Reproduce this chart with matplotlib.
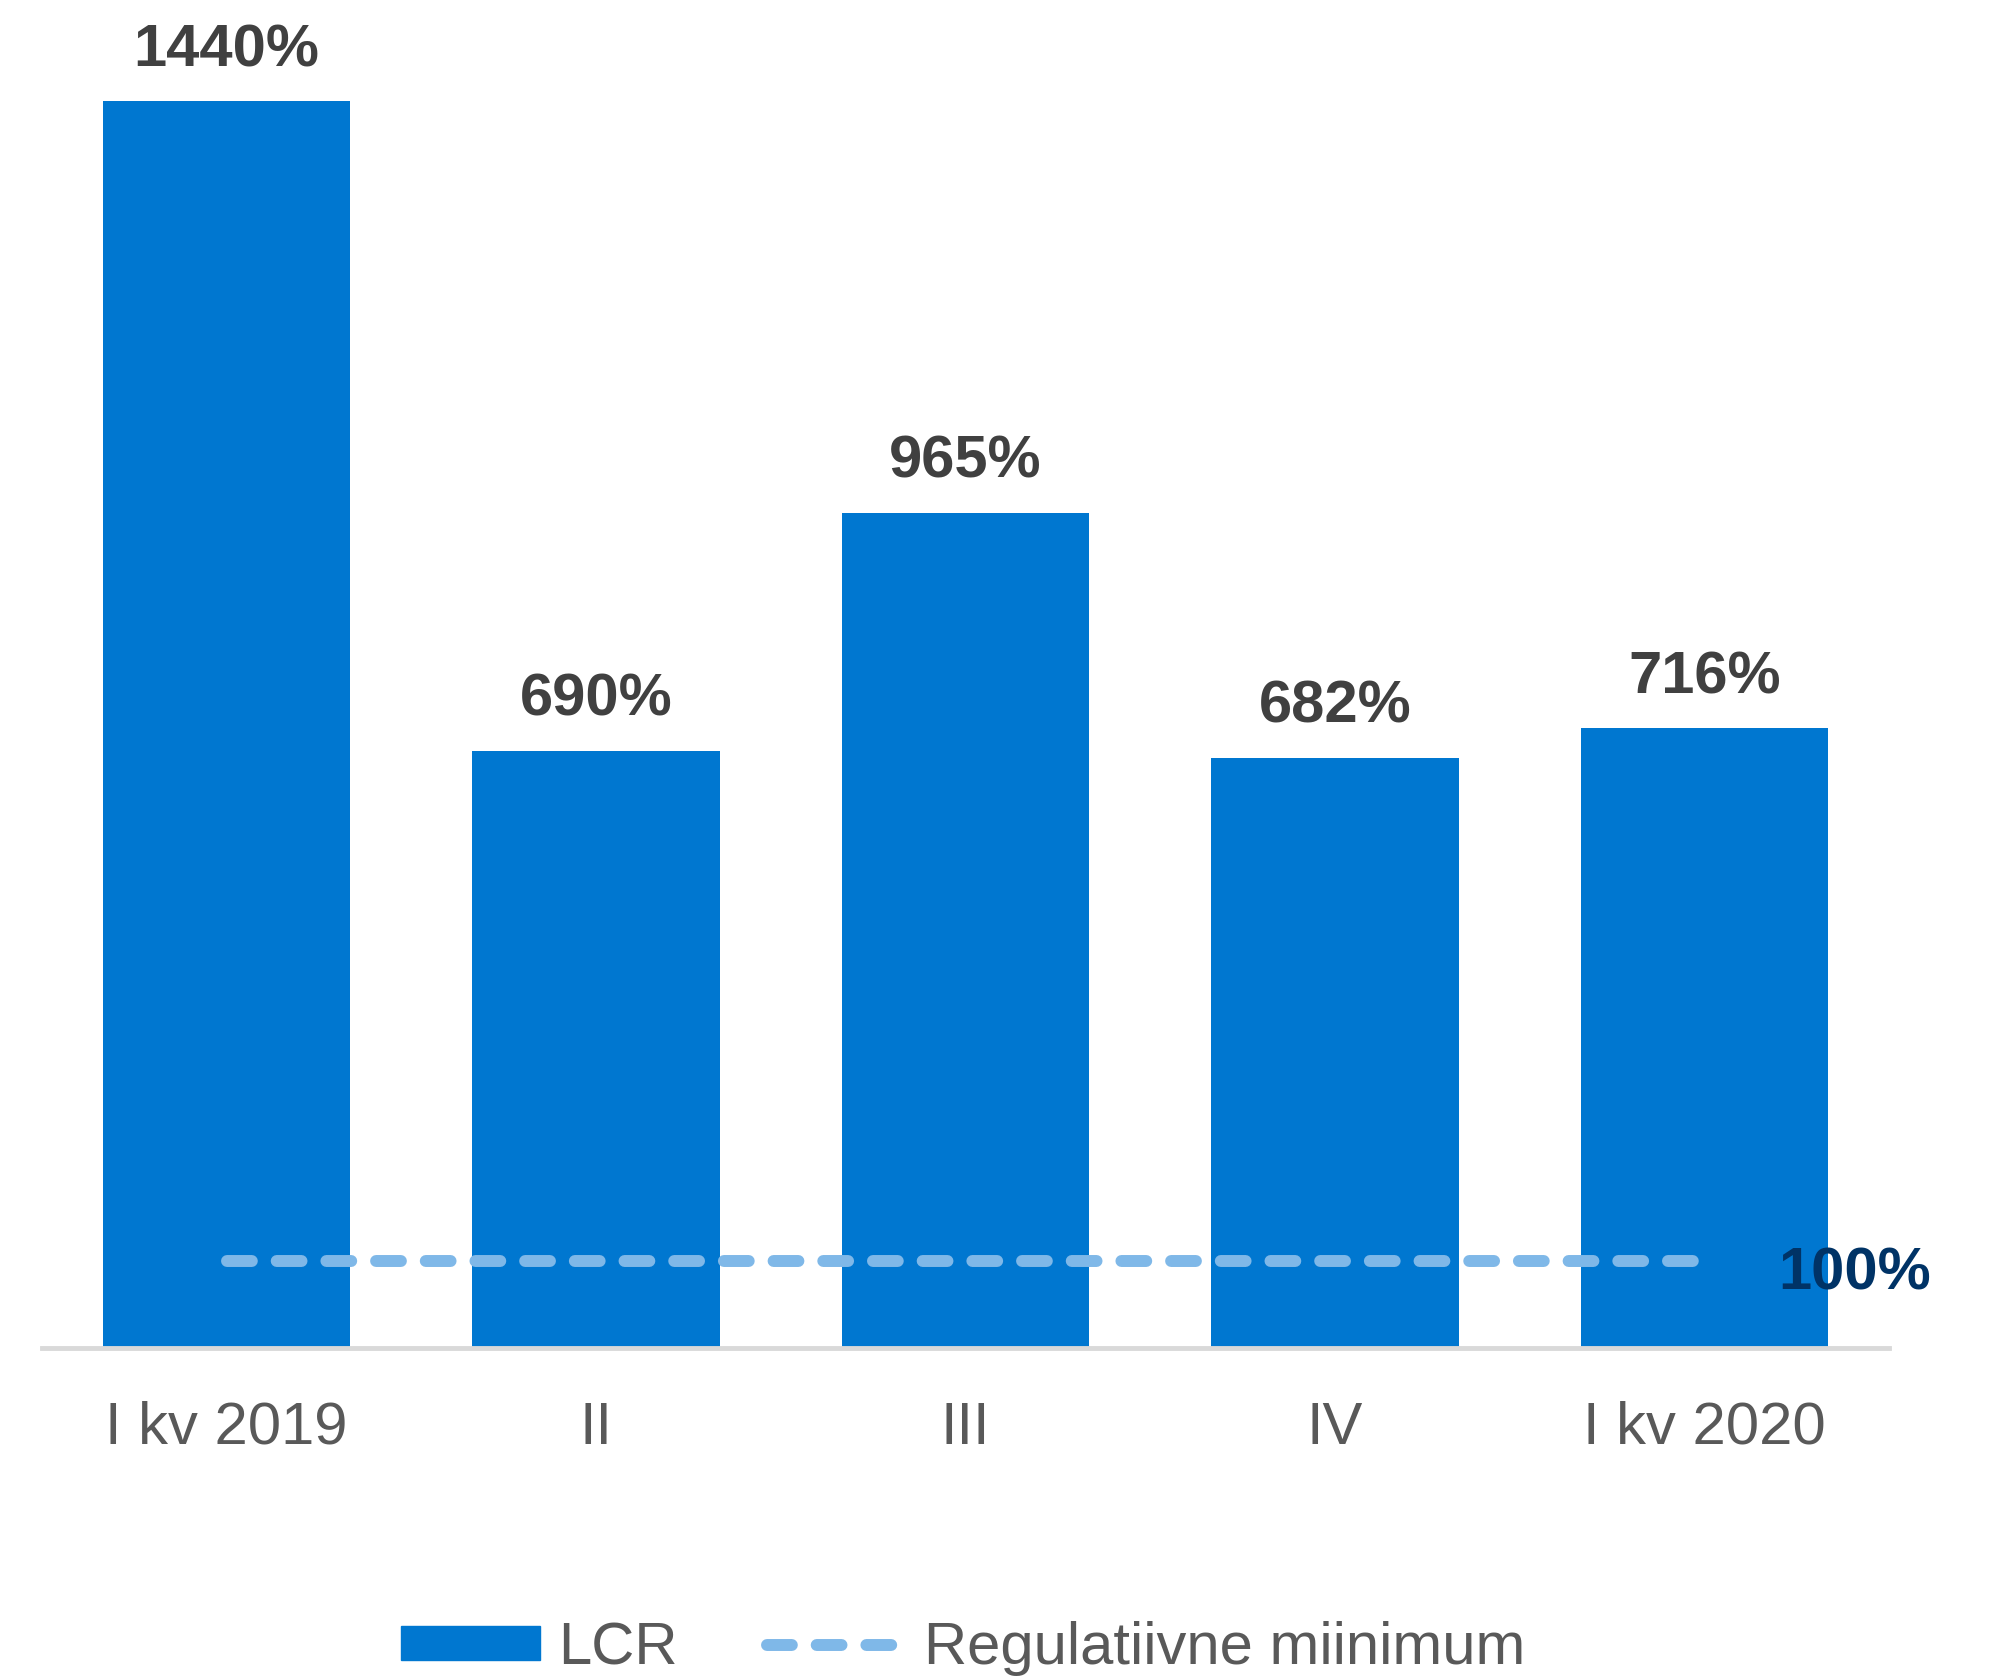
import matplotlib
matplotlib.use("Agg")
import matplotlib.pyplot as plt
from matplotlib.patches import Patch
from matplotlib.lines import Line2D

plt.rcParams['font.family'] = ['Liberation Sans', 'DejaVu Sans']

categories = ['I kv 2019', 'II', 'III', 'IV', 'I kv 2020']
lcr = [1440, 690, 965, 682, 716]
minimum = [100, 100, 100, 100, 100]
bar_labels = ['1440%', '690%', '965%', '682%', '716%']

bar_color = '#0077d0'
min_color = '#7fb8e8'

fig = plt.figure(figsize=(19.94, 16.78), dpi=100)
ax = fig.add_axes([42 / 1994, 0.1967, (1889 - 42) / 1994, 0.8033])

x = list(range(len(categories)))
ax.bar(x, lcr, width=0.67, color=bar_color, zorder=2)
ax.plot(x, minimum, color=min_color, lw=8.6, dashes=(2.08, 2.08),
        dash_capstyle='round', zorder=3)

for xi, v, lab in zip(x, lcr, bar_labels):
    ax.annotate(lab, (xi, v), xytext=(0, 25), textcoords='offset points',
                ha='center', va='baseline', fontsize=43, fontweight='bold',
                color='#404040')

ax.text(4.2, 67, '100%', ha='left', va='baseline', fontsize=43,
        fontweight='bold', color='#003366', clip_on=False)

ax.set_xlim(-0.5, 4.5)
ax.set_ylim(0, 1557)
ax.set_xticks(x)
ax.set_xticklabels(categories, fontsize=43, color='#595959')
ax.tick_params(axis='x', length=0, pad=38)
ax.set_yticks([])
for s in ['top', 'right', 'left']:
    ax.spines[s].set_visible(False)
ax.spines['bottom'].set_color('#d9d9d9')
ax.spines['bottom'].set_linewidth(3.5)

handles = [Patch(color=bar_color, label='LCR'),
           Line2D([0], [0], color=min_color, lw=8.6, dashes=(2.08, 2.08),
                  dash_capstyle='round', label='Regulatiivne miinimum')]
fig.legend(handles=handles, loc='center', bbox_to_anchor=(0.483, 0.0175),
           ncol=2, frameon=False, fontsize=43, labelcolor='#595959',
           handlelength=2.33, handleheight=0.5, handletextpad=0.3,
           columnspacing=1.5)

fig.savefig('out.png', dpi=100, facecolor='white')
